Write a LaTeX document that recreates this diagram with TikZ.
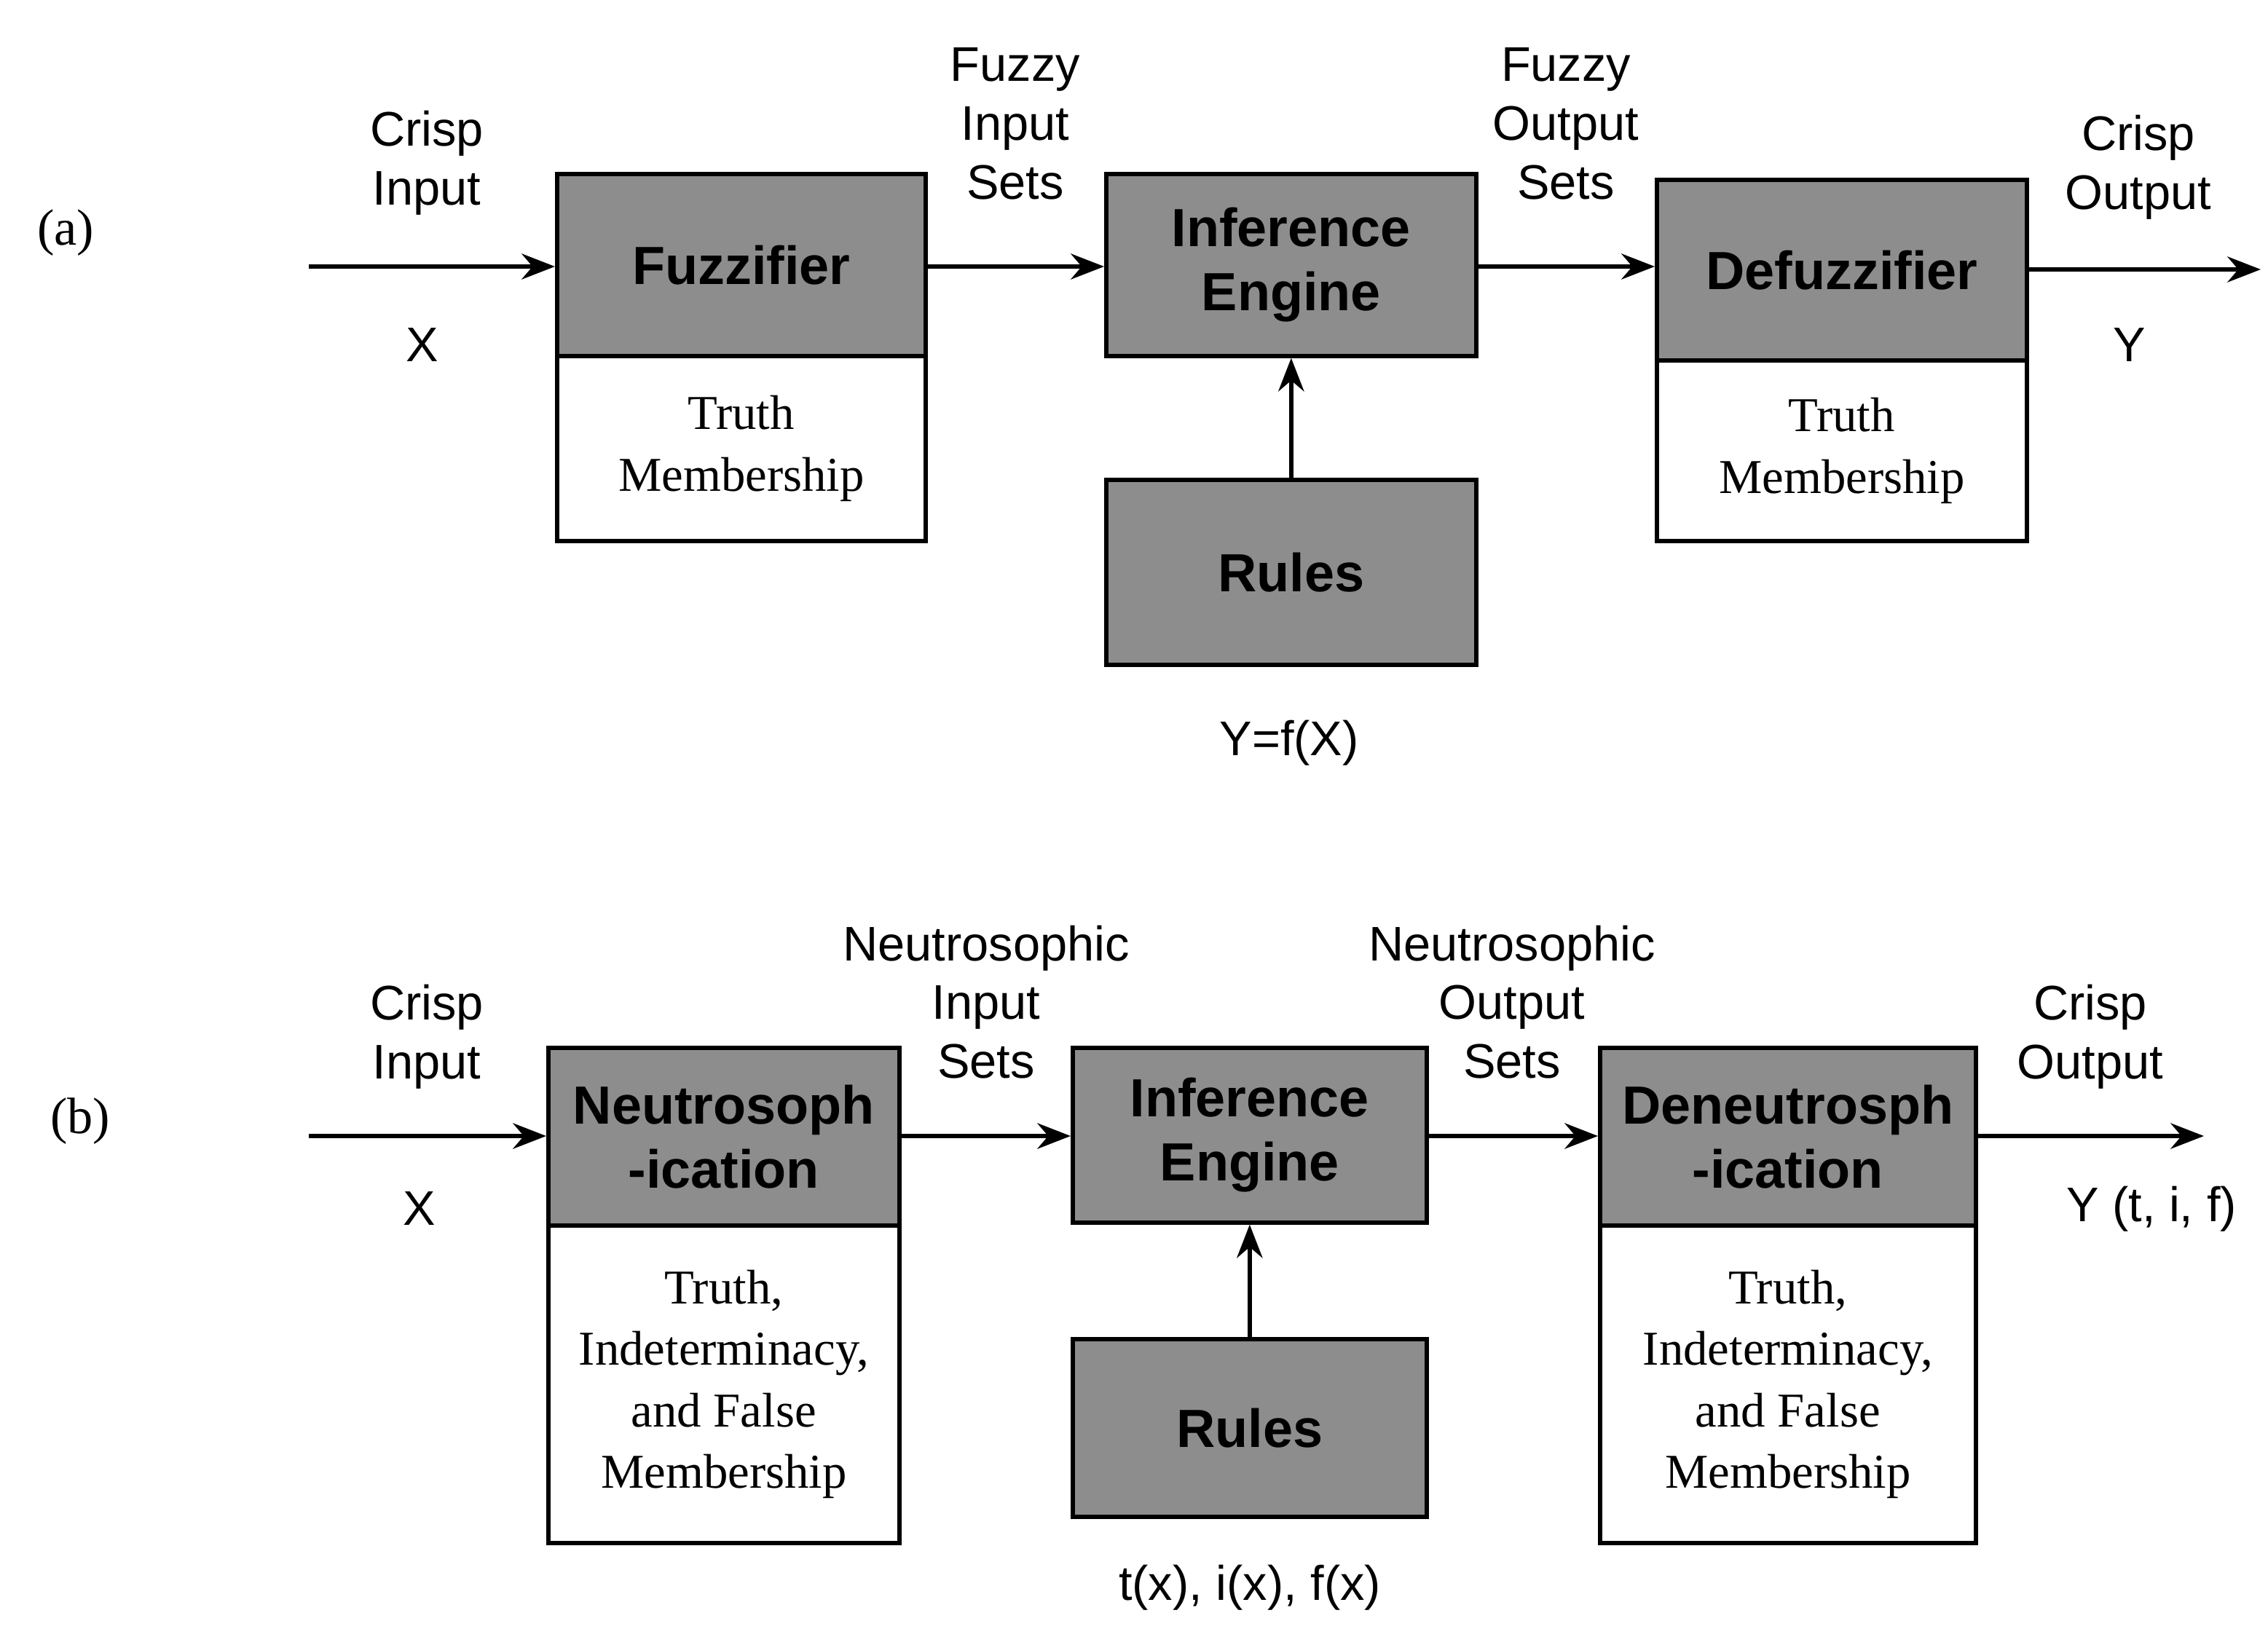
\documentclass[tikz,border=0pt]{standalone}
\usepackage{fontspec}
\setmainfont{Liberation Serif}
\newfontfamily\lab{Liberation Sans}
\usetikzlibrary{arrows.meta}
\begin{document}
\begin{tikzpicture}[x=0.02cm,y=-0.02cm,
  gbox/.style={draw=black,line width=1.6pt,fill=gray!95!black!85,inner sep=0pt,font=\lab\bfseries\fontsize{21}{25}\selectfont,align=center},
  wbox/.style={draw=black,line width=1.6pt,fill=white,inner sep=0pt,font=\fontsize{19}{24}\selectfont,align=center},
  lbl/.style={font=\lab\fontsize{19}{23}\selectfont,align=center,inner sep=0pt},
  arr/.style={line width=1.8pt,-{Stealth[length=13pt,width=10pt]}}]
\useasboundingbox (0,0) rectangle (1557,1123.5);
\tikzset{bx/.style args={#1,#2,#3,#4}{minimum width=#3*0.02cm,minimum height=#4*0.02cm}}
% (a)
\node[lbl,font=\fontsize{20}{24}\selectfont] (la) at (45,160) {(a)};
\coordinate (ina) at (212,183);
\node[gbox,bx={0,0,253,125},anchor=north west] (fuz) at (381,118) {Fuzzifier};
\node[wbox,bx={0,0,253,127},anchor=north west] (fuzm) at (381,243) {Truth\\Membership};
\node[gbox,bx={0,0,254,125},anchor=north west] (inf) at (758,118) {Inference\\Engine};
\node[gbox,bx={0,0,254,127},anchor=north west] (rul) at (758,328) {Rules};
\node[gbox,bx={0,0,254,124},anchor=north west] (def) at (1136,122) {Defuzzifier};
\node[wbox,bx={0,0,254,124},anchor=north west] (defm) at (1136,246) {Truth\\Membership};
\coordinate (outa) at (1552,185);
\draw[arr] (ina) -- (ina -| fuz.west);
\draw[arr] (fuz.east |- 0,183) -- (inf.west |- 0,183);
\draw[arr] (inf.east |- 0,183) -- (def.west |- 0,183);
\draw[arr] (def.east |- outa) -- (outa);
\draw[arr] (rul.north) -- (inf.south);
\node[lbl] (t1) at (293,112) {Crisp\\Input};
\node[lbl] (t2) at (290,237) {X};
\node[lbl] (t3) at (697,85) {Fuzzy\\Input\\Sets};
\node[lbl] (t4) at (1075,85) {Fuzzy\\Output\\Sets};
\node[lbl] (t5) at (1468,115) {Crisp\\Output};
\node[lbl] (t6) at (1462,237) {Y};
\node[lbl] (t7) at (885,510) {Y=f(X)};
% (b)
\node[lbl,font=\fontsize{20}{24}\selectfont] (lb) at (55,770) {(b)};
\coordinate (inb) at (212,780);
\node[gbox,bx={0,0,241,122},anchor=north west] (neu) at (375,718) {Neutrosoph\\-ication};
\node[wbox,bx={0,0,241,218},anchor=north west] (neum) at (375,840) {Truth,\\Indeterminacy,\\and False\\Membership};
\node[gbox,bx={0,0,243,120},anchor=north west] (infb) at (735,718) {Inference\\Engine};
\node[gbox,bx={0,0,243,122},anchor=north west] (rulb) at (735,918) {Rules};
\node[gbox,bx={0,0,258,122},anchor=north west] (den) at (1097,718) {Deneutrosph\\-ication};
\node[wbox,bx={0,0,258,218},anchor=north west] (denm) at (1097,840) {Truth,\\Indeterminacy,\\and False\\Membership};
\coordinate (outb) at (1513,780);
\draw[arr] (inb) -- (inb -| neu.west);
\draw[arr] (neu.east |- 0,780) -- (infb.west |- 0,780);
\draw[arr] (infb.east |- 0,780) -- (den.west |- 0,780);
\draw[arr] (den.east |- outb) -- (outb);
\draw[arr] (rulb.north) -- (infb.south);
\node[lbl] (u1) at (293,712) {Crisp\\Input};
\node[lbl] (u2) at (288,830) {X};
\node[lbl] (u3) at (677,688) {Neutrosophic\\Input\\Sets};
\node[lbl] (u4) at (1038,688) {Neutrosophic\\Output\\Sets};
\node[lbl] (u5) at (1435,712) {Crisp\\Output};
\node[lbl] (u6) at (1477,830) {Y (t, i, f)};
\node[lbl] (u7) at (858,1090) {t(x), i(x), f(x)};
\end{tikzpicture}
\end{document}
